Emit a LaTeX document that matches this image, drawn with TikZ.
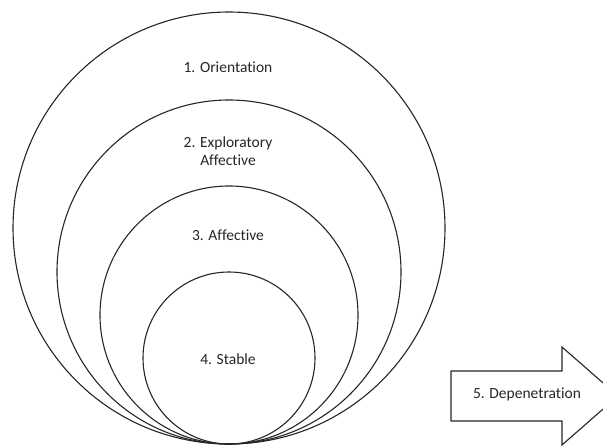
\documentclass[tikz,border=0pt]{standalone}
\usepackage{fontspec}
\setmainfont[Ligatures=NoCommon]{Carlito}
\begin{document}
\begin{tikzpicture}[x=1pt,y=-1pt,
  ring/.style={draw=black!85,line width=1.1pt},
  lbl/.style={font=\fontsize{15.5}{18}\selectfont,text=black!85,align=center,inner sep=0pt},
  arrowshape/.style={draw=black!85,line width=1.1pt,fill=white}]
\useasboundingbox (0,0) rectangle (603,447);
\clip (0,0) rectangle (603,447);
\node[ring,circle,minimum size=432pt,inner sep=0pt] (c1) at (229,228) {};
\node[ring,circle,minimum size=344pt,inner sep=0pt] (c2) at (229,272) {};
\node[ring,circle,minimum size=258pt,inner sep=0pt] (c3) at (229,315) {};
\node[ring,circle,minimum size=172pt,inner sep=0pt] (c4) at (229,358) {};
\node[lbl] (t1) at (228,67) {1. Orientation};
\node[lbl] (t2) at (228,151) {2. Exploratory\\Affective};
\node[lbl] (t3) at (228,235) {3. Affective};
\node[lbl] (t4) at (228,359) {4. Stable};
\draw[arrowshape] (451,371) -- (562,371) -- (562,347) -- (618,396) -- (562,445) -- (562,421) -- (451,421) -- cycle;
\node[lbl] (t5) at (527,394) {5. Depenetration};
\end{tikzpicture}
\end{document}
